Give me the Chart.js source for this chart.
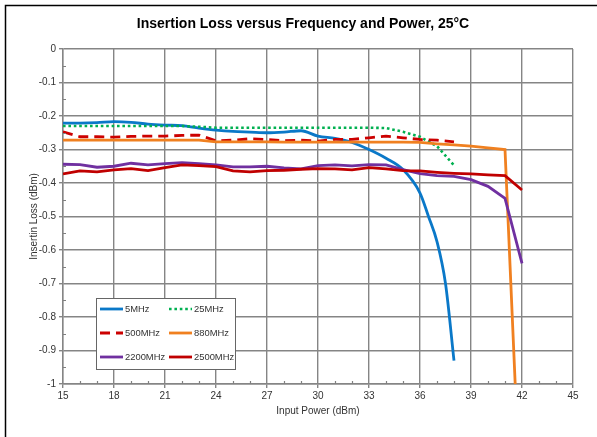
<!DOCTYPE html>
<html>
<head>
<meta charset="utf-8">
<script src="https://cdn.jsdelivr.net/npm/chart.js@4.4.1/dist/chart.umd.min.js"></script>
<style>
  html, body { margin: 0; padding: 0; background: #fff; }
  #wrap { position: relative; width: 597px; height: 437px; }
</style>
</head>
<body>
<div id="wrap"><canvas id="c" width="597" height="437"></canvas></div>
<script>
const chartTitle = 'Insertion Loss versus Frequency and Power, 25°C';
const xAxisTitle = 'Input Power (dBm)';
const yAxisTitle = 'Insertin Loss (dBm)';
const seriesNames = ['5MHz', '25MHz', '500MHz', '880MHz', '2200MHz', '2500MHz'];

const x5MHz = [15,16,17,18,19,20,21,22,23,24,25,26,27,28,29,30,31,32,33,34,35,36,36.5,37,37.5,38];
const y5MHz = [-0.221,-0.221,-0.22,-0.217,-0.219,-0.224,-0.227,-0.229,-0.236,-0.242,-0.246,-0.248,-0.25,-0.248,-0.244,-0.26,-0.267,-0.279,-0.30,-0.326,-0.36,-0.43,-0.50,-0.575,-0.70,-0.93];

const x25MHz = [15,16,17,18,19,20,21,22,23,24,25,26,27,28,29,30,31,32,33,34,35,36,37,38];
const y25MHz = [-0.23,-0.23,-0.23,-0.23,-0.23,-0.23,-0.23,-0.23,-0.232,-0.235,-0.235,-0.235,-0.235,-0.235,-0.235,-0.235,-0.235,-0.235,-0.235,-0.236,-0.247,-0.262,-0.29,-0.347];

const x500MHz = [15,16,17,18,19,20,21,22,23,24,25,26,27,28,29,30,31,32,33,34,35,36,37,38];
const y500MHz = [-0.247,-0.262,-0.262,-0.263,-0.261,-0.26,-0.26,-0.258,-0.257,-0.274,-0.272,-0.268,-0.27,-0.274,-0.272,-0.275,-0.27,-0.27,-0.265,-0.26,-0.265,-0.27,-0.272,-0.277];

const x880MHz = [15,16,17,18,19,20,21,22,23,24,25,26,27,28,29,30,31,32,33,34,35,36,37,38,39,40,41,41.6];
const y880MHz = [-0.272,-0.272,-0.272,-0.272,-0.272,-0.272,-0.272,-0.272,-0.272,-0.277,-0.277,-0.277,-0.277,-0.278,-0.278,-0.278,-0.278,-0.278,-0.278,-0.278,-0.278,-0.279,-0.283,-0.286,-0.29,-0.295,-0.30,-1.0];

const x2200MHz = [15,16,17,18,19,20,21,22,23,24,25,26,27,28,29,30,31,32,33,34,35,36,37,38,39,40,41,42];
const y2200MHz = [-0.344,-0.345,-0.353,-0.35,-0.341,-0.346,-0.342,-0.339,-0.342,-0.346,-0.352,-0.352,-0.35,-0.355,-0.358,-0.348,-0.346,-0.349,-0.345,-0.346,-0.36,-0.372,-0.378,-0.38,-0.39,-0.41,-0.446,-0.64];

const x2500MHz = [15,16,17,18,19,20,21,22,23,24,25,26,27,28,29,30,31,32,33,34,35,36,37,38,39,40,41,42];
const y2500MHz = [-0.373,-0.364,-0.367,-0.361,-0.357,-0.363,-0.354,-0.346,-0.348,-0.351,-0.364,-0.367,-0.363,-0.362,-0.359,-0.357,-0.358,-0.361,-0.354,-0.358,-0.363,-0.364,-0.368,-0.371,-0.373,-0.376,-0.378,-0.421];

const xMin = 15, xMax = 45, xStep = 3;
const yMin = -1, yMax = 0, yStep = 0.1;

function pts(xs, ys) { return xs.map((x, i) => ({x: x, y: ys[i]})); }

const FONT = "'Liberation Sans', Arial, sans-serif";

const datasets = [
  { label: seriesNames[0], data: pts(x5MHz, y5MHz), borderColor: '#0a78c8', borderWidth: 2.8, cubicInterpolationMode: 'monotone', order: 5 },
  { label: seriesNames[1], data: pts(x25MHz, y25MHz), borderColor: '#00b050', borderWidth: 2.6, borderDash: [2.6, 2.8], order: 4 },
  { label: seriesNames[2], data: pts(x500MHz, y500MHz), borderColor: '#cc0000', borderWidth: 2.8, borderDash: [10, 6], order: 3 },
  { label: seriesNames[3], data: pts(x880MHz, y880MHz), borderColor: '#f08020', borderWidth: 2.8, order: 2 },
  { label: seriesNames[4], data: pts(x2200MHz, y2200MHz), borderColor: '#7030a0', borderWidth: 2.8, order: 1 },
  { label: seriesNames[5], data: pts(x2500MHz, y2500MHz), borderColor: '#c00000', borderWidth: 2.8, order: 0 }
];
datasets.forEach(d => { d.pointRadius = 0; d.fill = false; d.tension = 0; });

const decorPlugin = {
  id: 'decor',
  beforeDraw(chart) {
    const ctx = chart.ctx;
    ctx.save();
    ctx.fillStyle = '#fff';
    ctx.fillRect(0, 0, chart.width, chart.height);
    ctx.strokeStyle = '#000';
    ctx.lineWidth = 1.5;
    ctx.beginPath();
    ctx.moveTo(5.5, chart.height);
    ctx.lineTo(5.5, 5.5);
    ctx.lineTo(chart.width, 5.5);
    ctx.stroke();
    ctx.restore();
  },
  afterDraw(chart) {
    const ctx = chart.ctx;
    const xs = chart.scales.x, ys = chart.scales.y;
    const a = chart.chartArea;
    ctx.save();
    // title
    ctx.fillStyle = '#000';
    ctx.font = 'bold 14px ' + FONT;
    ctx.textAlign = 'center';
    ctx.textBaseline = 'middle';
    ctx.fillText(chartTitle, 303, 24);
    // minor ticks
    ctx.strokeStyle = '#808080';
    ctx.lineWidth = 1.2;
    ctx.beginPath();
    for (let v = xMin; v <= xMax; v += 1) {
      if ((v - xMin) % xStep === 0) continue;
      const px = Math.round(xs.getPixelForValue(v)) + 0.5;
      ctx.moveTo(px, a.bottom);
      ctx.lineTo(px, a.bottom - 3);
    }
    for (let k = 1; k < 20; k += 2) {
      const v = yMax - k * 0.05;
      const py = Math.round(ys.getPixelForValue(v)) + 0.5;
      ctx.moveTo(a.left, py);
      ctx.lineTo(a.left + 3, py);
    }
    ctx.stroke();
    // legend
    const bx = 96, by = 298, bw = 139, bh = 71;
    ctx.fillStyle = '#fff';
    ctx.fillRect(bx, by, bw, bh);
    ctx.strokeStyle = '#666';
    ctx.lineWidth = 1;
    ctx.strokeRect(bx + 0.5, by + 0.5, bw, bh);
    const colX = [100, 169];
    const rowY = [309, 333, 357];
    ctx.font = '9.4px ' + FONT;
    ctx.textAlign = 'left';
    ctx.textBaseline = 'middle';
    chart.data.datasets.forEach((d, i) => {
      const cx = colX[i % 2], cy = rowY[Math.floor(i / 2)];
      ctx.save();
      ctx.strokeStyle = d.borderColor;
      ctx.lineWidth = d.borderWidth;
      if (d.borderDash) ctx.setLineDash(d.borderDash);
      ctx.beginPath();
      ctx.moveTo(cx, cy);
      ctx.lineTo(cx + 23, cy);
      ctx.stroke();
      ctx.restore();
      ctx.fillStyle = '#333';
      ctx.fillText(d.label, cx + 25, cy + 0.5);
    });
    ctx.restore();
  }
};

new Chart(document.getElementById('c'), {
  type: 'line',
  data: { datasets: datasets },
  options: {
    responsive: false,
    animation: false,
    devicePixelRatio: 1,
    layout: { padding: { left: 5, top: 49, right: 24, bottom: 0 } },
    plugins: { legend: { display: false }, title: { display: false }, tooltip: { enabled: false } },
    scales: {
      x: {
        type: 'linear', min: xMin, max: xMax,
        afterFit(s) { s.height = 53; },
        ticks: { stepSize: xStep, color: '#333', font: { family: FONT, size: 10 }, padding: 2, maxRotation: 0 },
        grid: { color: '#858585', lineWidth: 1.4, tickLength: 4, tickColor: '#858585' },
        border: { color: '#858585', width: 1.4 },
        title: { display: true, text: xAxisTitle, color: '#333', font: { family: FONT, size: 10 }, padding: { top: 0, bottom: 20 } }
      },
      y: {
        type: 'linear', min: yMin, max: yMax,
        afterFit(s) { s.width = 58; },
        ticks: { stepSize: yStep, color: '#333', font: { family: FONT, size: 10 }, padding: 3,
                 callback: v => String(Number(Number(v).toFixed(2))) },
        grid: { color: '#858585', lineWidth: 1.4, tickLength: 4, tickColor: '#858585' },
        border: { color: '#858585', width: 1.4 },
        title: { display: true, text: yAxisTitle, color: '#333', font: { family: FONT, size: 10 }, padding: { top: 23, bottom: 0 } }
      }
    }
  },
  plugins: [decorPlugin]
});
</script>
</body>
</html>
